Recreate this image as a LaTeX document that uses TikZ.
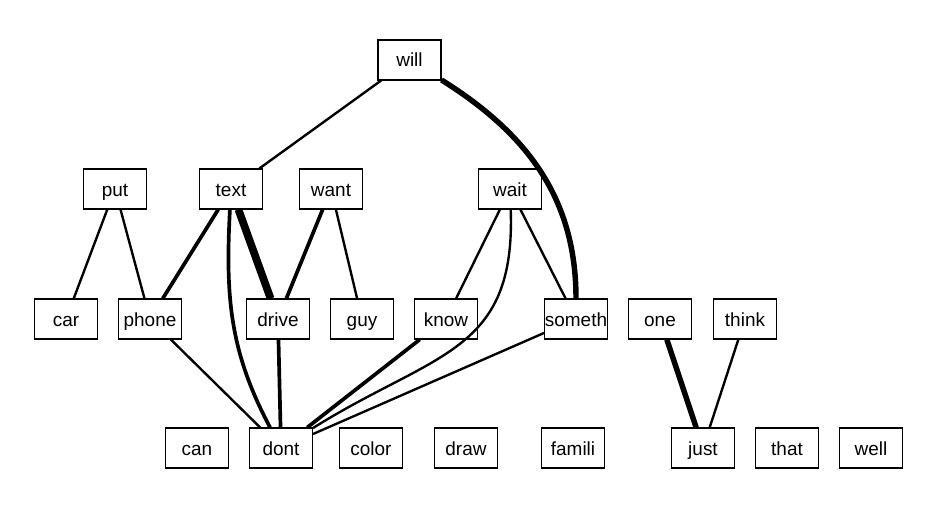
\documentclass[tikz,border=0pt]{standalone}
\usepackage{fontspec}
\setmainfont{Liberation Sans}
\begin{document}
\begin{tikzpicture}[wordbox/.style={draw, line width=0.6pt, minimum width=1.26cm, minimum height=0.8cm, inner sep=0pt,
                        text height=0.36cm, text depth=0.08cm, font=\fontsize{10.8}{13}\selectfont},
                    thinlink/.style={line width=1.35pt},
                    midlink/.style={line width=2.1pt},
                    thicklink/.style={line width=3.1pt},
                    heavylink/.style={line width=4.4pt}]
                \useasboundingbox (0,0) rectangle (18.74,10.18);
                \node[wordbox] (will) at (8.19,8.98) {will};
                \foreach \x/\w in {2.30/put, 4.62/text, 6.62/want, 10.20/wait}{
                    \node[wordbox] (\w) at (\x,6.40) {\w};
                }
                \foreach \x/\w in {1.32/car, 3.00/phone, 5.56/drive, 7.24/guy, 8.92/know, 11.52/someth, 13.20/one, 14.90/think}{
                    \node[wordbox] (\w) at (\x,3.80) {\w};
                }
                \foreach \x/\w in {3.94/can, 5.62/dont, 7.42/color, 9.32/draw, 11.46/famili, 14.06/just, 15.74/that, 17.42/well}{
                    \node[wordbox] (\w) at (\x,1.22) {\w};
                }
                % Links from the top
                \draw[thinlink] (will) -- (text);
                \draw[thicklink] (will) to[out=-32, in=90] (someth);
                %%%
                % Links from the second row
                \draw[thinlink] (put) -- (car);
                \draw[thinlink] (put) -- (phone);
                \draw[midlink] (text) -- (phone);
                \draw[heavylink] (text) -- (drive);
                \draw[midlink] (text) to[out=-93, in=118] (dont);
                \draw[midlink] (want) -- (drive);
                \draw[thinlink] (want) -- (guy);
                \draw[thinlink] (wait) -- (know);
                \draw[thinlink] (wait) to[out=-88, in=32, looseness=1.25] (dont);
                \draw[thinlink] (wait) -- (someth);
                %%%
                % Links into the bottom row
                \draw[thinlink] (phone) -- (dont);
                \draw[midlink] (drive) -- (dont);
                \draw[midlink] (know) -- (dont);
                \draw[thinlink] (someth) -- (dont);
                \draw[thicklink] (one) -- (just);
                \draw[thinlink] (think) -- (just);
                %%%
            \end{tikzpicture}
\end{document}
